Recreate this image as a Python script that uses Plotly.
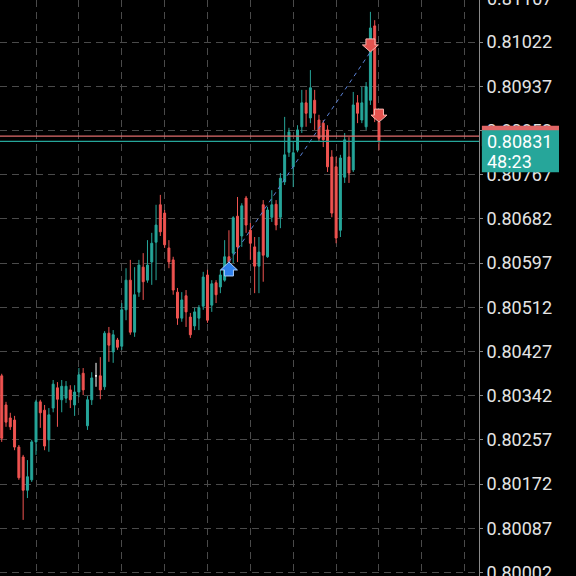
import plotly.graph_objects as go

# ---------------- data ----------------
idx = list(range(89))
open_ = [0.80380, 0.80324, 0.80299, 0.80295, 0.80243, 0.80224, 0.80160, 0.80180, 0.80253, 0.80330,
         0.80314, 0.80257, 0.80318, 0.80357, 0.80334, 0.80337, 0.80353, 0.80324, 0.80349, 0.80385,
         0.80284, 0.80334, 0.80380, 0.80380, 0.80359, 0.80462, 0.80426, 0.80449, 0.80437, 0.80507,
         0.80564, 0.80464, 0.80541, 0.80589, 0.80564, 0.80599, 0.80637, 0.80709, 0.80693, 0.80626,
         0.80603, 0.80541, 0.80491, 0.80534, 0.80493, 0.80476, 0.80491, 0.80514, 0.80574, 0.80516,
         0.80559, 0.80551, 0.80564, 0.80609, 0.80616, 0.80687, 0.80649, 0.80722, 0.80660, 0.80628,
         0.80591, 0.80709, 0.80609, 0.80685, 0.80710, 0.80685, 0.80753, 0.80810, 0.80782, 0.80814,
         0.80859, 0.80905, 0.80876, 0.80910, 0.80872, 0.80866, 0.80853, 0.80801, 0.80782, 0.80660,
         0.80762, 0.80801, 0.80776, 0.80905, 0.80872, 0.80859, 0.80910, 0.81053, 0.80868]
high_ = [0.80384, 0.80330, 0.80309, 0.80303, 0.80247, 0.80228, 0.80218, 0.80257, 0.80334, 0.80334,
         0.80324, 0.80318, 0.80372, 0.80368, 0.80372, 0.80370, 0.80362, 0.80362, 0.80395, 0.80395,
         0.80341, 0.80387, 0.80405, 0.80416, 0.80466, 0.80474, 0.80468, 0.80453, 0.80520, 0.80587,
         0.80603, 0.80589, 0.80603, 0.80616, 0.80641, 0.80655, 0.80709, 0.80728, 0.80699, 0.80641,
         0.80609, 0.80549, 0.80541, 0.80545, 0.80501, 0.80511, 0.80516, 0.80580, 0.80584, 0.80564,
         0.80564, 0.80584, 0.80641, 0.80660, 0.80687, 0.80724, 0.80712, 0.80726, 0.80674, 0.80647,
         0.80647, 0.80718, 0.80705, 0.80737, 0.80718, 0.80770, 0.80878, 0.80857, 0.80830, 0.80862,
         0.80930, 0.80930, 0.80968, 0.80930, 0.80882, 0.80872, 0.80862, 0.80814, 0.80801, 0.80805,
         0.80847, 0.80839, 0.80926, 0.80920, 0.80936, 0.80945, 0.81080, 0.81064, 0.80872]
low_ = [0.80253, 0.80282, 0.80276, 0.80237, 0.80180, 0.80103, 0.80145, 0.80176, 0.80228, 0.80280,
        0.80237, 0.80234, 0.80310, 0.80282, 0.80310, 0.80328, 0.80318, 0.80303, 0.80339, 0.80343,
        0.80276, 0.80324, 0.80359, 0.80335, 0.80353, 0.80407, 0.80405, 0.80430, 0.80430, 0.80487,
        0.80459, 0.80455, 0.80532, 0.80526, 0.80559, 0.80555, 0.80564, 0.80649, 0.80626, 0.80587,
        0.80536, 0.80478, 0.80484, 0.80474, 0.80453, 0.80468, 0.80468, 0.80507, 0.80482, 0.80503,
        0.80520, 0.80539, 0.80561, 0.80597, 0.80597, 0.80599, 0.80628, 0.80655, 0.80603, 0.80539,
        0.80539, 0.80561, 0.80607, 0.80676, 0.80660, 0.80664, 0.80747, 0.80801, 0.80743, 0.80810,
        0.80847, 0.80859, 0.80866, 0.80853, 0.80830, 0.80820, 0.80772, 0.80685, 0.80635, 0.80647,
        0.80751, 0.80751, 0.80772, 0.80866, 0.80866, 0.80853, 0.80901, 0.80868, 0.80814]
close_ = [0.80260, 0.80291, 0.80282, 0.80243, 0.80184, 0.80160, 0.80186, 0.80253, 0.80330, 0.80309,
          0.80245, 0.80305, 0.80364, 0.80335, 0.80360, 0.80360, 0.80334, 0.80349, 0.80382, 0.80353,
          0.80334, 0.80376, 0.80380, 0.80353, 0.80462, 0.80439, 0.80459, 0.80435, 0.80507, 0.80564,
          0.80464, 0.80536, 0.80593, 0.80561, 0.80593, 0.80635, 0.80670, 0.80657, 0.80632, 0.80599,
          0.80545, 0.80491, 0.80526, 0.80503, 0.80459, 0.80503, 0.80511, 0.80570, 0.80487, 0.80557,
          0.80536, 0.80574, 0.80609, 0.80599, 0.80684, 0.80628, 0.80707, 0.80670, 0.80635, 0.80591,
          0.80618, 0.80612, 0.80699, 0.80709, 0.80670, 0.80760, 0.80805, 0.80849, 0.80809, 0.80853,
          0.80905, 0.80885, 0.80934, 0.80885, 0.80837, 0.80834, 0.80782, 0.80693, 0.80645, 0.80799,
          0.80834, 0.80770, 0.80901, 0.80885, 0.80905, 0.80936, 0.81049, 0.80876, 0.80831]
doji_idx = [22]

y_ticks = [0.80002, 0.80087, 0.80172, 0.80257, 0.80342, 0.80427, 0.80512,
           0.80597, 0.80682, 0.80767, 0.80852, 0.80937, 0.81022]
y_tick_text = ["0.80002", "0.80087", "0.80172", "0.80257", "0.80342", "0.80427", "0.80512",
               "0.80597", "0.80682", "0.80767", "0.80852", "0.80937", "0.81022"]
top_tick_text = "0.81107"
grid_x = [8, 18, 28, 38, 48, 58, 68, 78, 88, 98, 108]

buy_idx, buy_price = 53, 0.80599
sell_idx = [86, 88]
sell_price = [0.81003, 0.80868]
ask_price, bid_price = 0.80841, 0.80831
bid_label = "0.80831"
timer_label = "48:23"

# ---------------- styles ----------------
BULL = "#26a69a"
BEAR = "#ef5350"
GRID = "#4a4a4a"
TXT = "#e4e4e4"
FONT = "Roboto"

main = [i for i in idx if i not in doji_idx]
fig = go.Figure()
fig.add_trace(go.Candlestick(
    x=[idx[i] for i in main], open=[open_[i] for i in main], high=[high_[i] for i in main],
    low=[low_[i] for i in main], close=[close_[i] for i in main],
    increasing=dict(line=dict(color=BULL, width=1), fillcolor=BULL),
    decreasing=dict(line=dict(color=BEAR, width=1), fillcolor=BEAR),
    whiskerwidth=0, showlegend=False, hoverinfo="skip"))
fig.add_trace(go.Candlestick(
    x=[idx[i] for i in doji_idx], open=[open_[i] for i in doji_idx], high=[high_[i] for i in doji_idx],
    low=[low_[i] for i in doji_idx], close=[close_[i] for i in doji_idx],
    increasing=dict(line=dict(color="#ffffff", width=1), fillcolor="#ffffff"),
    decreasing=dict(line=dict(color="#ffffff", width=1), fillcolor="#ffffff"),
    whiskerwidth=0, showlegend=False, hoverinfo="skip"))

# trade connection line
fig.add_trace(go.Scatter(x=[buy_idx, sell_idx[0]], y=[buy_price, sell_price[0]], mode="lines",
                         line=dict(color="#5b82d6", width=1, dash="4px,4px"),
                         showlegend=False, hoverinfo="skip"))

shapes = []
# price lines
shapes.append(dict(type="line", xref="paper", x0=0, x1=1, yref="y", y0=ask_price, y1=ask_price,
                   line=dict(color="#e06c6c", width=1.2), layer="above"))
shapes.append(dict(type="line", xref="paper", x0=0, x1=1, yref="y", y0=bid_price, y1=bid_price,
                   line=dict(color=BULL, width=1.2), layer="above"))
# buy arrow (tip at price, pointing up)
shapes.append(dict(type="path", xref="x", yref="y", xsizemode="pixel", ysizemode="pixel",
                   xanchor=buy_idx, yanchor=buy_price,
                   path="M0,0 L-8.5,-8 L-4.5,-8 L-4.5,-14 L4.5,-14 L4.5,-8 L8.5,-8 Z",
                   fillcolor="#2f80ed", line=dict(color="#a9cdfa", width=1), layer="above"))
# sell arrows (tip at price, pointing down)
for sx, sp in zip(sell_idx, sell_price):
    shapes.append(dict(type="path", xref="x", yref="y", xsizemode="pixel", ysizemode="pixel",
                       xanchor=sx, yanchor=sp,
                       path="M0,0 L-8,7 L-4.5,7 L-4.5,13 L4.5,13 L4.5,7 L8,7 Z",
                       fillcolor="#e5534f", line=dict(color="#f7b4ae", width=1), layer="above"))
# price labels on the axis (ask box mostly hidden under the bid box)
shapes.append(dict(type="rect", xref="paper", x0=1.006, x1=1.167, yref="y", ysizemode="pixel",
                   yanchor=ask_price, y0=-10, y1=10.5, fillcolor="#e06666", line=dict(width=0),
                   layer="above"))
shapes.append(dict(type="rect", xref="paper", x0=1.006, x1=1.167, yref="y", ysizemode="pixel",
                   yanchor=bid_price, y0=-31, y1=11, fillcolor="#26a69a", line=dict(width=0),
                   layer="above"))

annotations = [
    dict(xref="paper", yref="paper", x=1.0, y=1.0, xanchor="left", yanchor="middle", xshift=6, yshift=2,
         text=top_tick_text, showarrow=False, font=dict(family=FONT, size=18, color=TXT)),
    dict(xref="paper", yref="y", x=1.0, y=bid_price, xanchor="left", yanchor="middle", xshift=6, yshift=0,
         text=bid_label, showarrow=False, font=dict(family=FONT, size=18, color="#ffffff")),
    dict(xref="paper", yref="y", x=1.0, y=bid_price, xanchor="left", yanchor="middle", xshift=6, yshift=-20,
         text=timer_label, showarrow=False, font=dict(family=FONT, size=18, color="#ffffff")),
]

fig.update_layout(
    width=576, height=576, margin=dict(l=0, r=97, t=0, b=0, autoexpand=False),
    paper_bgcolor="#000000", plot_bgcolor="#000000",
    boxgap=0.35, showlegend=False, shapes=shapes, annotations=annotations,
    xaxis=dict(range=[-0.40, 111.33], tickvals=grid_x, showticklabels=False, showgrid=True,
               gridcolor=GRID, griddash="7px,5px", gridwidth=1, zeroline=False, showline=False,
               rangeslider=dict(visible=False), ticks="", automargin=False),
    yaxis=dict(range=[0.799951, 0.811028], side="right", tickvals=y_ticks, ticktext=y_tick_text,
               tickfont=dict(family=FONT, size=18, color=TXT), showgrid=True, gridcolor=GRID,
               griddash="7px,5px", gridwidth=1, zeroline=False, showline=True, linecolor="#8a8a8a",
               linewidth=1, ticks="outside", ticklen=3, tickcolor="#8a8a8a",
               ticklabeloverflow="allow", automargin=False),
)

fig.write_html("out.html")
